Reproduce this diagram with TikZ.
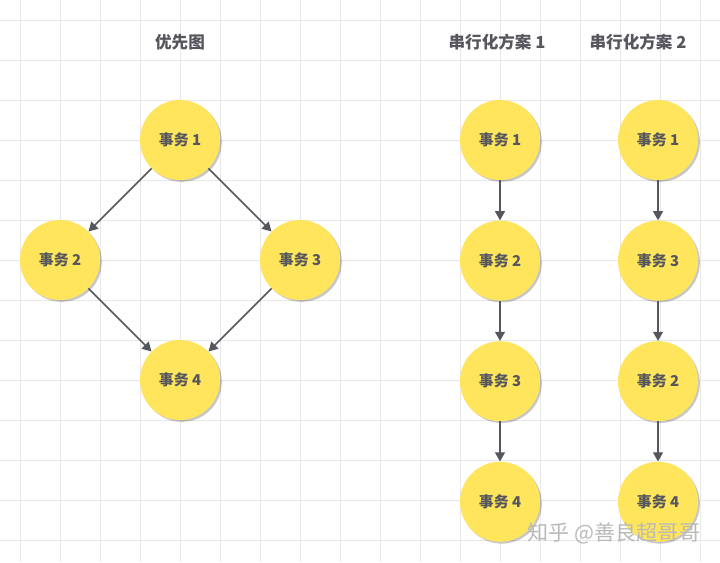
\documentclass[tikz,border=0pt]{standalone}
\usepackage{fontspec}
\newfontfamily\cjk{Noto Sans CJK SC}
\usepackage{xcolor}
\usetikzlibrary{chains,positioning,shadows,arrows.meta}

\definecolor{txnyellow}{RGB}{255,229,92}
\definecolor{txngray}{RGB}{86,86,94}
\definecolor{gridgray}{RGB}{232,232,232}

\begin{document}
\begin{tikzpicture}[x=0.025cm,y=-0.025cm]
        % 1px = 0.025cm, y grows downwards

        \edef\sizetxn{2cm}
        \tikzstyle{txn}=[circle,fill=txnyellow,minimum size=\sizetxn,inner sep=0pt,
            text=txngray,font=\cjk\bfseries\fontsize{10.6}{12}\selectfont,
            drop shadow={shadow xshift=1.3pt,shadow yshift=-1.3pt,fill=black,opacity=.22}]
        \tikzstyle{heading}=[text=txngray,font=\cjk\bfseries\fontsize{11.8}{13}\selectfont]
        \tikzstyle{dep}=[-{Triangle[length=6.5pt,width=7pt]},line width=1.2pt,txngray]

        %% Background and grid
        \fill[white] (0,0) rectangle (720,562);
        \useasboundingbox (0,0) rectangle (720,562);
        \foreach \x in {20,60,...,700}
            \draw[gridgray,line width=0.6pt] (\x,0) -- (\x,562);
        \foreach \y in {20,60,...,540}
            \draw[gridgray,line width=0.6pt] (0,\y) -- (720,\y);

        %% Headings
        \node [heading] (hprec) at (180,42) {优先图};
        \node [heading] (hser1) at (497,42) {串行化方案 1};
        \node [heading] (hser2) at (638,42) {串行化方案 2};

        %% Precedence graph
        \node [txn] (p1) at (180,140) {事务 1};
        \node [txn] (p2) at (60,260) {事务 2};
        \node [txn] (p3) at (300,260) {事务 3};
        \node [txn] (p4) at (180,380) {事务 4};
        \draw [dep] (p1) -- (p2);
        \draw [dep] (p1) -- (p3);
        \draw [dep] (p2) -- (p4);
        \draw [dep] (p3) -- (p4);

        %% Serial schedule 1
        \begin{scope}[shift={(500,140)},start chain=1 going below,node distance=1cm]
            \node [on chain=1,txn] (a1) {事务 1};
            \node [on chain=1,txn] (a2) {事务 2};
            \node [on chain=1,txn] (a3) {事务 3};
            \node [on chain=1,txn] (a4) {事务 4};
        \end{scope}
        \draw [dep] (a1) -- (a2);
        \draw [dep] (a2) -- (a3);
        \draw [dep] (a3) -- (a4);

        %% Serial schedule 2
        \begin{scope}[shift={(658,140)},start chain=2 going below,node distance=1cm]
            \node [on chain=2,txn] (b1) {事务 1};
            \node [on chain=2,txn] (b3) {事务 3};
            \node [on chain=2,txn] (b2) {事务 2};
            \node [on chain=2,txn] (b4) {事务 4};
        \end{scope}
        \draw [dep] (b1) -- (b3);
        \draw [dep] (b3) -- (b2);
        \draw [dep] (b2) -- (b4);

        \node [text=gray!55,font=\cjk\fontsize{15}{16}\selectfont] (credit) at (614,533) {知乎 @善良超哥哥};

    \end{tikzpicture}
\end{document}
